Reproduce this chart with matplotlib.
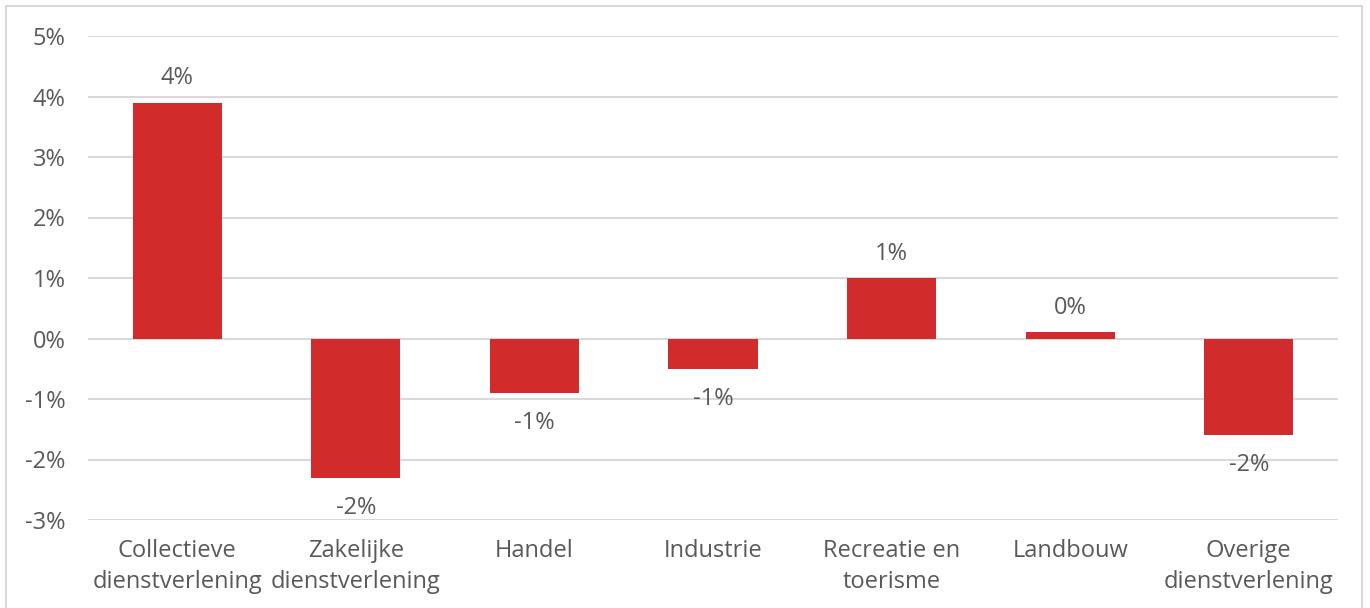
import matplotlib.pyplot as plt
from matplotlib.patches import Rectangle
from matplotlib.ticker import FuncFormatter

# ----- data -----
categories = ["Collectieve\ndienstverlening", "Zakelijke\ndienstverlening", "Handel",
              "Industrie", "Recreatie en\ntoerisme", "Landbouw", "Overige\ndienstverlening"]
values = [3.9, -2.3, -0.9, -0.5, 1.0, 0.1, -1.6]
labels = ["4%", "-2%", "-1%", "-1%", "1%", "0%", "-2%"]

BAR_COLOR = "#D12B2B"
TEXT_COLOR = "#595959"
GRID_COLOR = "#D9D9D9"
FS = 17

plt.rcParams["font.family"] = ["Open Sans", "DejaVu Sans"]

fig = plt.figure(figsize=(13.7, 6.08), dpi=100)
ax = fig.add_axes([88 / 1370, 1 - 520 / 608, 1250 / 1370, 484 / 608])

x = range(len(categories))
ax.bar(x, values, width=0.5, color=BAR_COLOR, zorder=3)

ax.set_xlim(-0.5, len(categories) - 0.5)
ax.set_ylim(-3, 5)
ax.set_yticks(range(-3, 6))
ax.yaxis.set_major_formatter(FuncFormatter(lambda v, _: f"{int(v)}%"))
ax.set_xticks(list(x))
ax.set_xticklabels(categories, linespacing=1.35)

ax.grid(axis="y", color=GRID_COLOR, linewidth=1.5, zorder=0)
ax.tick_params(axis="both", length=0, labelsize=FS, colors=TEXT_COLOR)
ax.tick_params(axis="y", pad=16)
ax.tick_params(axis="x", pad=14)
for s in ax.spines.values():
    s.set_visible(False)

for xi, v, lab in zip(x, values, labels):
    off = 9 if v >= 0 else -13
    ax.annotate(lab, (xi, v), xytext=(0, off), textcoords="offset points",
                ha="center", va="bottom" if v >= 0 else "top",
                fontsize=FS, color=TEXT_COLOR)

# light frame around the chart
fig.patches.append(Rectangle((6 / 1370, -0.01), 1356 / 1370, 1 - 6 / 608 + 0.01,
                             transform=fig.transFigure, fill=False,
                             edgecolor=GRID_COLOR, linewidth=1.5))

fig.savefig("out.png", dpi=100)
